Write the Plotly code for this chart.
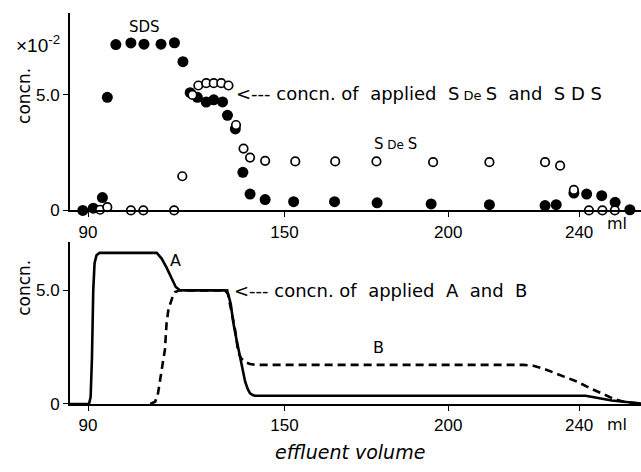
import plotly.graph_objects as go

# ---------------- data ----------------
# top panel: SDS (filled) and SDeS (open), concentration x10^-2
sds_x = [88.4, 91.6, 94.4, 95.9, 98.5, 103.1, 107.1, 112.3, 116.4, 119.0, 121.2, 123.4,
         126.1, 128.4, 131.1, 132.6, 135.0, 137.3, 139.5, 144.1, 152.8, 165.3, 178.3,
         194.8, 212.6, 229.6, 233.0, 238.4, 242.3, 246.9, 251.0, 255.5]
sds_y = [0.0, 0.1, 0.56, 4.9, 7.18, 7.25, 7.2, 7.2, 7.26, 6.44, 5.1, 4.9,
         4.69, 4.79, 4.7, 4.12, 3.53, 1.65, 0.71, 0.47, 0.38, 0.38, 0.33,
         0.28, 0.25, 0.21, 0.25, 0.75, 0.71, 0.64, 0.35, 0.03]
sdes_x = [93.7, 95.9, 103.1, 106.9, 116.3, 118.8, 121.9, 123.7, 126.1, 128.4, 130.7, 132.9,
          135.2, 137.5, 139.5, 144.1, 153.3, 165.5, 178.1, 195.4, 212.6, 229.6, 234.2,
          238.4, 243.0, 247.1, 250.9]
sdes_y = [0.03, 0.14, 0.0, 0.0, 0.0, 1.48, 5.0, 5.41, 5.51, 5.51, 5.51, 5.41,
          3.7, 2.68, 2.29, 2.15, 2.12, 2.12, 2.12, 2.09, 2.09, 2.09, 1.94,
          0.89, 0.0, 0.0, 0.0]

# bottom panel: curves A (solid) and B (dashed)
a_x = [84.5, 90.3, 90.8, 91.2, 91.6, 92.0, 92.6, 93.5, 111.0, 112.5, 114.0, 115.5, 116.8,
       118.0, 119.5, 131.8, 132.8, 133.6, 134.4, 135.4, 136.4, 137.3, 138.0, 138.8, 139.5,
       140.3, 141.0, 242.0, 250.0, 258.9]
a_y = [0.0, 0.0, 0.3, 2.0, 5.0, 6.2, 6.55, 6.65, 6.65, 6.4, 6.0, 5.5, 5.15,
       5.02, 5.0, 5.0, 4.85, 4.4, 3.56, 2.8, 2.13, 1.45, 0.98, 0.65, 0.47,
       0.39, 0.36, 0.36, 0.15, 0.02]
b_x = [109.0, 110.5, 111.3, 112.0, 112.8, 113.5, 114.0, 114.5, 115.1, 115.8, 116.6, 118.0,
       132.5, 133.4, 134.2, 134.9, 135.4, 135.9, 136.8, 138.0, 139.5, 141.0, 223.0, 226.0,
       229.2, 234.0, 239.4, 244.0, 247.6, 251.0, 254.0, 258.9]
b_y = [0.0, 0.1, 0.4, 0.98, 1.7, 2.4, 3.56, 4.1, 4.4, 4.7, 4.93, 5.0,
       5.0, 4.28, 3.8, 3.28, 2.75, 2.27, 2.0, 1.84, 1.76, 1.72, 1.72, 1.68,
       1.55, 1.28, 0.98, 0.65, 0.4, 0.2, 0.08, 0.02]

x_ticks = [90, 150, 200, 240]
x_ticklabels = ["90", "150", "200", "240"]
y_ticks = [0, 5]
y_ticklabels = ["0", "5.0"]

W, H = 641, 472
FONT = "Liberation Sans"
FONT2 = "DejaVu Sans"

def px(x):
    return x / W

def py(y):
    return 1 - y / H

fig = go.Figure()

fig.add_trace(go.Scatter(x=sds_x, y=sds_y, mode="markers", xaxis="x", yaxis="y",
                         marker=dict(size=11, color="black", line=dict(width=0)),
                         cliponaxis=False, showlegend=False))
fig.add_trace(go.Scatter(x=sdes_x, y=sdes_y, mode="markers", xaxis="x", yaxis="y",
                         marker=dict(size=8.5, color="white", line=dict(width=1.7, color="black")),
                         cliponaxis=False, showlegend=False))
fig.add_trace(go.Scatter(x=b_x, y=b_y, mode="lines", xaxis="x2", yaxis="y2",
                         line=dict(color="black", width=2.6, dash="8px,5px"),
                         cliponaxis=False, showlegend=False))
fig.add_trace(go.Scatter(x=a_x, y=a_y, mode="lines", xaxis="x2", yaxis="y2",
                         line=dict(color="black", width=2.6),
                         cliponaxis=False, showlegend=False))

xr = [84.5, 258.9]
axis_common = dict(showgrid=False, zeroline=False, showline=True, linecolor="black",
                   linewidth=2, ticks="outside", ticklen=5, tickwidth=1.2, tickcolor="black",
                   tickfont=dict(family=FONT, size=17, color="black"))

fig.update_layout(
    width=W, height=H, margin=dict(l=0, r=0, t=0, b=0),
    paper_bgcolor="white", plot_bgcolor="white",
    xaxis=dict(domain=[px(70), 1], range=xr, anchor="y", tickvals=x_ticks,
               ticktext=x_ticklabels, **axis_common),
    yaxis=dict(domain=[py(215), py(13)], range=[0, 8.56], anchor="x", tickvals=y_ticks,
               ticktext=y_ticklabels, **axis_common),
    xaxis2=dict(domain=[px(70), 1], range=xr, anchor="y2", tickvals=x_ticks,
                ticktext=x_ticklabels, **axis_common),
    yaxis2=dict(domain=[py(412.7), py(247)], range=[0, 7.14], anchor="x2", tickvals=y_ticks,
                ticktext=y_ticklabels, **axis_common),
)

def ann(text, x, y, size=16, xanchor="center", yanchor="middle", angle=0, italic=False, family=FONT2):
    fig.add_annotation(text=text, x=px(x), y=py(y), xref="paper", yref="paper",
                       showarrow=False, xanchor=xanchor, yanchor=yanchor, textangle=angle,
                       font=dict(family=family, size=size, color="black",
                                 style="italic" if italic else "normal"))

# axis titles
ann("concn.", 24, 98, size=17, angle=-90)
ann("concn.", 24, 294, size=17, angle=-90)
ann("×10<sup>-2</sup>", 38, 45, size=19, family=FONT)
ann("effluent volume", 350, 462, size=19, italic=True)
ann("ml", 617, 228, size=16)
ann("ml", 617, 434, size=16)

# series labels
ann("SDS", 144, 28, size=15)
ann("S<span style='font-size:12px'> De </span>S", 395, 147, size=15)
ann("A", 175, 266, size=16)
ann("B", 378, 355, size=16)

# applied concentration notes
ann("&lt;--- concn. of  applied  S<span style='font-size:13px'> De </span>S  and  S D S",
    234, 96, size=18, xanchor="left")
ann("&lt;--- concn. of  applied  A  and  B", 232, 297, size=18, xanchor="left")

fig.write_html("out.html")
